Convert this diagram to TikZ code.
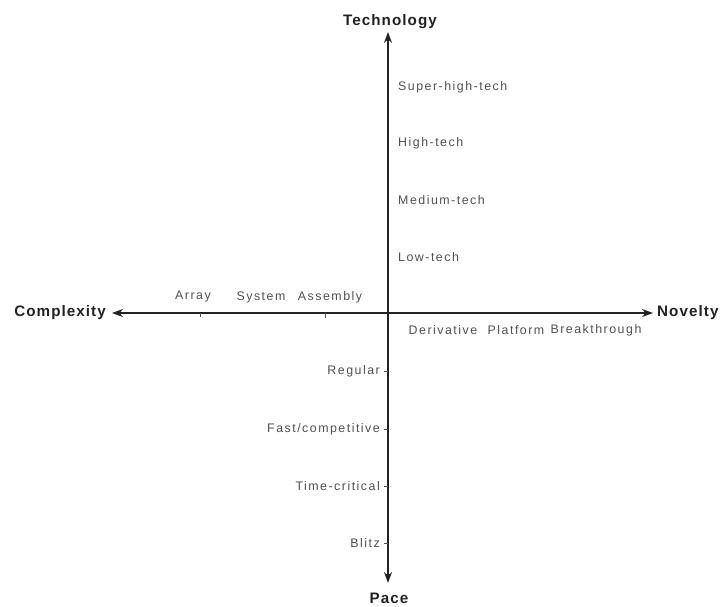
\documentclass[tikz,border=0pt]{standalone}
\usepackage{fontspec}
\setmainfont{Liberation Sans}
\newfontfamily\lblfont[LetterSpace=12]{Liberation Sans}
\newfontfamily\axfont[LetterSpace=7]{Liberation Sans}
\usetikzlibrary{arrows.meta}
\definecolor{axisc}{HTML}{222222}
\definecolor{lblc}{HTML}{505050}
\begin{document}
\begin{tikzpicture}[x=1pt,y=-1pt,
  axlbl/.style={font=\axfont\fontsize{15.2}{17}\selectfont\bfseries, text=axisc, inner sep=0pt},
  lbl/.style={font=\lblfont\fontsize{12.4}{14}\selectfont, text=lblc, inner sep=0pt},
  axisline/.style={draw=axisc, line width=1.5pt, {Stealth[length=11pt,width=8pt]}-{Stealth[length=11pt,width=8pt]}},
  tick/.style={draw=lblc, line width=0.5pt}]
\useasboundingbox (0,0) rectangle (721,606);
% axis titles
\node[axlbl] (tech) at (390,22) {Technology};
\node[axlbl] (pace) at (389,598) {Pace};
\node[axlbl, anchor=east] (cplx) at (106,313) {Complexity};
\node[axlbl, anchor=west] (nov) at (657,313) {Novelty};
\coordinate (top) at (388,32);
\coordinate (bot) at (388,583);
\coordinate (lft) at (112,313);
\coordinate (rgt) at (653,313);
\draw[axisline] (top) -- (bot);
\draw[axisline] (lft) -- (rgt);
% technology levels
\node[lbl, anchor=west] (sht) at (398,87) {Super-high-tech};
\node[lbl, anchor=west] (ht) at (398,143) {High-tech};
\node[lbl, anchor=west] (mt) at (398,200) {Medium-tech};
\node[lbl, anchor=west] (lt) at (398,257) {Low-tech};
% pace levels
\node[lbl, anchor=east] (reg) at (380,371) {Regular};
\node[lbl, anchor=east] (fast) at (380,429) {Fast/competitive};
\node[lbl, anchor=east] (tc) at (380,486) {Time-critical};
\node[lbl, anchor=east] (blz) at (380,543) {Blitz};
\foreach \n in {reg,fast,tc,blz}{
  \draw[tick] (\n.east -| bot) ++(-4,0) -- ++(4,0);
}
% complexity levels
\node[lbl] (arr) at (193,297) {Array};
\node[lbl] (sys) at (261,297) {System};
\node[lbl] (asm) at (330,297) {Assembly};
\coordinate (tarr) at (200,313);
\coordinate (tasm) at (325,313);
\draw[tick] (tarr) -- ++(0,4);
\draw[tick] (tasm) -- ++(0,5);
% novelty levels
\node[lbl] (der) at (443,330) {Derivative};
\node[lbl] (plt) at (516,330) {Platform};
\node[lbl] (brk) at (596,330) {Breakthrough};
\end{tikzpicture}
\end{document}
